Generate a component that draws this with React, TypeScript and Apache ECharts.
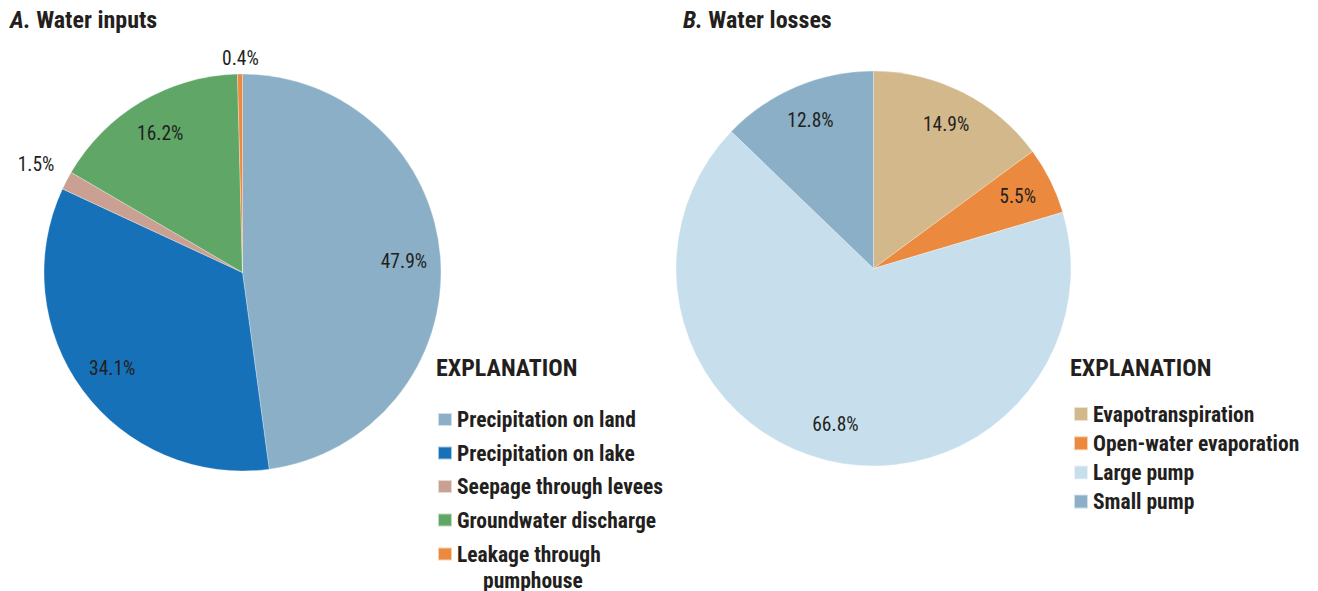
import React, { useEffect, useRef } from "react";
import * as echarts from "echarts";

const inputCategories = [
  "Precipitation on land",
  "Precipitation on lake",
  "Seepage through levees",
  "Groundwater discharge",
  "Leakage through pumphouse",
];
const inputValues = [47.9, 34.1, 1.5, 16.2, 0.4];
const inputColors = ["#8aafc6", "#1771b9", "#c9a092", "#60a767", "#eb8a3f"];

const lossCategories = [
  "Evapotranspiration",
  "Open-water evaporation",
  "Large pump",
  "Small pump",
];
const lossValues = [14.9, 5.5, 66.8, 12.8];
const lossColors = ["#d3b88b", "#eb8a3f", "#c7dfec", "#8aafc6"];

const FONT = "'Liberation Sans Narrow', 'Roboto Condensed', 'DejaVu Sans Condensed', sans-serif";
const INK = "#231f20";

// label placement tweaks for the thin slices (shown outside)
const outsideLabelStyle: Record<string, { len: number; dist: number }> = {
  "Seepage through levees": { len: 34, dist: -18 },
  "Leakage through pumphouse": { len: 15.5, dist: -19 },
};

const A_CENTER = [242.5, 272.5];
const A_R = 198.5;
const B_CENTER = [873.5, 268.5];
const B_R = 197.5;

function pieSeries(name: string, cats: string[], vals: number[], colors: string[], center: number[], r: number) {
  return {
    type: "pie",
    name,
    center,
    radius: [0, r],
    startAngle: 90,
    clockwise: true,
    label: { show: false },
    labelLine: { show: false },
    emphasis: { disabled: true },
    itemStyle: { borderColor: "rgba(255,255,255,0.6)", borderWidth: 0.5 },
    data: cats.map((c, i) => ({ name: c, value: vals[i], itemStyle: { color: colors[i] } })),
  };
}

function labelSeries(name: string, cats: string[], vals: number[], center: number[], r: number) {
  return {
    type: "pie",
    name,
    center,
    radius: [r * 0.6, r],
    startAngle: 90,
    clockwise: true,
    silent: true,
    legendHoverLink: false,
    avoidLabelOverlap: false,
    emphasis: { disabled: true },
    itemStyle: { color: "rgba(0,0,0,0)", borderWidth: 0 },
    label: {
      show: true,
      position: "inside",
      bleedMargin: 0,
      fontFamily: FONT,
      fontSize: 19.5,
      color: INK,
      formatter: (p: any) => `${Number(p.value).toFixed(1)}%`,
    },
    labelLine: { show: false },
    data: cats.map((c, i) => {
      const o = outsideLabelStyle[c];
      if (!o) return { name: c, value: vals[i] };
      return {
        name: c,
        value: vals[i],
        label: { position: "outside", distanceToLabelLine: o.dist },
        labelLine: { show: false, length: o.len, length2: 0 },
      };
    }),
  };
}

const legendText = {
  fontFamily: FONT,
  fontWeight: "bold",
  fontSize: 21.5,
  color: INK,
  lineHeight: 22,
};

export default function App() {
  const ref = useRef<HTMLDivElement>(null);
  useEffect(() => {
    document.body.style.margin = "0";
    const chart = echarts.init(ref.current!, undefined, { renderer: "svg" });
    const titleStyle = {
      fontFamily: FONT,
      fontSize: 24,
      lineHeight: 24,
      fontWeight: "bold",
      color: INK,
      rich: {
        i: { fontFamily: FONT, fontSize: 24, lineHeight: 24, fontWeight: "bold", fontStyle: "italic", color: INK },
      },
    };
    const explStyle = { fontFamily: FONT, fontSize: 24, lineHeight: 24, fontWeight: "bold", color: INK };
    chart.setOption({
      animation: false,
      backgroundColor: "#ffffff",
      title: [
        { text: "{i|A.} Water inputs", left: 10, top: 8, padding: 0, textStyle: titleStyle },
        { text: "{i|B.} Water losses", left: 683, top: 8, padding: 0, textStyle: titleStyle },
        { text: "EXPLANATION", left: 436, top: 356, padding: 0, textStyle: explStyle },
        { text: "EXPLANATION", left: 1070, top: 356, padding: 0, textStyle: explStyle },
      ],
      legend: [
        {
          orient: "vertical",
          left: 437,
          top: 408.5,
          padding: 0,
          icon: "rect",
          itemWidth: 14,
          itemHeight: 13,
          itemGap: 11.5,
          selectedMode: false,
          textStyle: legendText,
          data: inputCategories.slice(0, 4),
        },
        {
          orient: "vertical",
          left: 437,
          top: 515,
          padding: 0,
          icon: "rect",
          itemWidth: 14,
          itemHeight: 13,
          selectedMode: false,
          formatter: () => "Leakage through\n{i|pumphouse}",
          textStyle: {
            ...legendText,
            lineHeight: 26,
            padding: [26, 0, 0, 0],
            rich: {
              i: { fontFamily: FONT, fontWeight: "bold", fontSize: 21.5, color: INK, lineHeight: 26, padding: [0, 0, 0, 26] },
            },
          },
          data: inputCategories.slice(4),
        },
        {
          orient: "vertical",
          left: 1073,
          top: 403,
          padding: 0,
          icon: "rect",
          itemWidth: 14,
          itemHeight: 14,
          itemGap: 7.2,
          selectedMode: false,
          textStyle: legendText,
          data: lossCategories,
        },
      ],
      series: [
        pieSeries("Water inputs", inputCategories, inputValues, inputColors, A_CENTER, A_R),
        pieSeries("Water losses", lossCategories, lossValues, lossColors, B_CENTER, B_R),
        labelSeries("Water inputs labels", inputCategories, inputValues, A_CENTER, A_R),
        labelSeries("Water losses labels", lossCategories, lossValues, B_CENTER, B_R),
      ],
    });
    return () => chart.dispose();
  }, []);
  return <div ref={ref} style={{ width: 1318, height: 591 }} />;
}
